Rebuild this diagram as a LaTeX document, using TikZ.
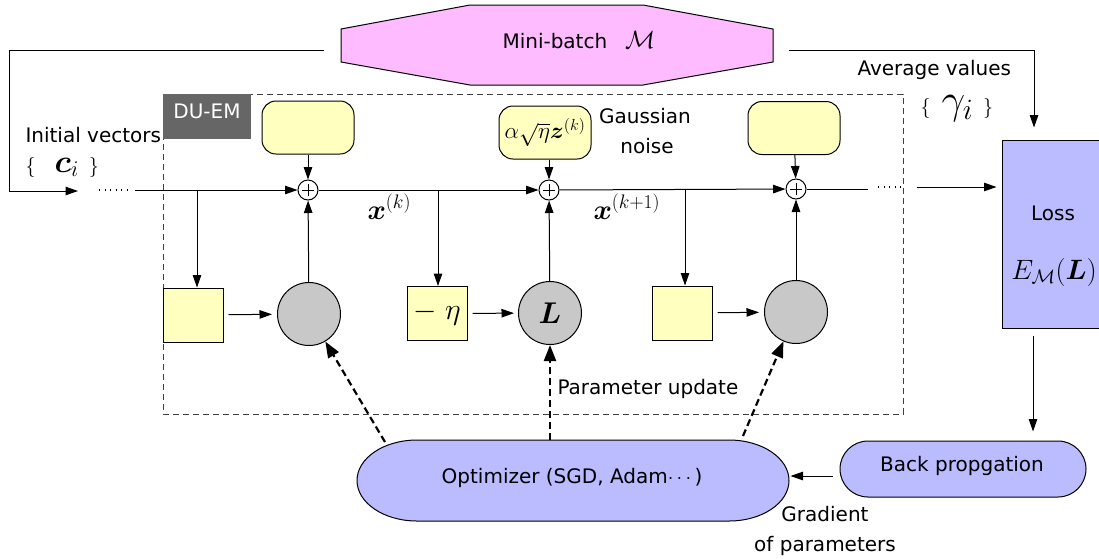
\RequirePackage{fix-cm}
\documentclass[tikz,border=0pt]{standalone}
\usepackage{amsmath,bm}
\usepackage{fontspec}
\setmainfont{DejaVu Sans}
\usetikzlibrary{arrows.meta}
\definecolor{pinkf}{RGB}{255,187,255}
\definecolor{yellowf}{RGB}{255,255,192}
\definecolor{grayf}{RGB}{200,200,200}
\definecolor{bluef}{RGB}{187,187,255}
\definecolor{duem}{RGB}{102,102,102}
\newcommand{\tfs}{\fontsize{20}{24}\selectfont}
\newcommand{\mfs}{\fontsize{28}{32}\selectfont}
\begin{document}
\begin{tikzpicture}[x=1pt,y=-1pt,line width=1pt,
 arr/.style={-{Triangle[length=12.5pt,width=8.5pt]}},
 darr/.style={-{Triangle[length=16pt,width=12pt]},line width=2.2pt,dash pattern=on 7pt off 4pt},
 txt/.style={inner sep=0pt,font=\tfs},
 mtxt/.style={inner sep=0pt},
 ybox/.style={draw,fill=yellowf,minimum width=60pt,minimum height=54pt,inner sep=0pt},
 gcirc/.style={draw,fill=grayf,circle,minimum size=63pt,inner sep=0pt},
 plusn/.style={draw,circle,fill=white,minimum size=20pt,inner sep=0pt,
   path picture={\draw[line width=0.9pt] ([xshift=-6pt]path picture bounding box.center) -- ([xshift=6pt]path picture bounding box.center);
                 \draw[line width=0.9pt] ([yshift=-6pt]path picture bounding box.center) -- ([yshift=6pt]path picture bounding box.center);}},
 rbox/.style={draw,fill=yellowf,rounded corners=14pt,minimum width=92pt,minimum height=53pt,inner sep=0pt},
 bluebox/.style={draw,fill=bluef,inner sep=0pt},
 dotline/.style={line width=1.3pt,dash pattern=on 1.3pt off 4.2pt}
]
\useasboundingbox (0,0) rectangle (1099,558);
\clip (0,0) rectangle (1099,558);
\fill[white] (0,0) rectangle (1099,558);

% DU-EM dashed frame
\draw[dash pattern=on 6pt off 4pt,draw=black!75] (163,94) rectangle (903,414);
\fill[duem] (163,94) rectangle (251,139);
\node[txt,anchor=base,text=white] (duemlbl) at (207,118) {DU-EM};

% Mini-batch
\draw[fill=pinkf] (341,29) -- (470,5) -- (643,5) -- (773,29) -- (773,62) -- (643,85) -- (470,85) -- (341,62) -- cycle;
\node[txt,anchor=base west] (mb) at (502,48) {Mini-batch\hspace{18pt}{\fontsize{25}{28}\selectfont$\mathcal{M}$}};

% nodes
\node[plusn] (p1) at (308,190) {};
\node[plusn] (p2) at (549,190) {};
\node[plusn] (p3) at (796,189) {};
\node[rbox] (t1) at (308,127.5) {};
\node[rbox] (t2) at (545,132.5) {\fontsize{23}{26}\selectfont$\alpha\sqrt{\eta}\bm{z}^{(k)}$};
\node[rbox] (t3) at (794,128) {};
\node[ybox] (s1) at (193,315) {};
\node[ybox] (s2) at (437,313.5) {\fontsize{30}{34}\selectfont$-\;\eta$};
\node[ybox] (s3) at (682,313) {};
\node[gcirc] (c1) at (309,314) {};
\node[gcirc] (c2) at (550,313) {\fontsize{30}{34}\selectfont$\bm{L}$};
\node[gcirc] (c3) at (796,312) {};

% Loss
\node[bluebox,minimum width=106pt,minimum height=188pt] (loss) at (1055,234) {};
\node[txt,anchor=base] (losslbl) at (1053,220) {Loss};
\node[mtxt,anchor=base] (elbl) at (1054,279) {\fontsize{28}{32}\selectfont$E_{\mathcal{M}}(\bm{L})$};

% Back propagation
\node[bluebox,rounded corners=28pt,minimum width=246pt,minimum height=56pt] (bp) at (963,469) {};
\node[txt,anchor=base] (bplbl) at (962,471) {Back propgation};

% Optimizer
\draw[fill=bluef] (417,440) -- (729,440) .. controls (762.1,440) and (789,458.1) .. (789,480.5) .. controls (789,502.9) and (762.1,521) .. (729,521) -- (417,521) .. controls (383.9,521) and (357,502.9) .. (357,480.5) .. controls (357,458.1) and (383.9,440) .. (417,440) -- cycle;
\node[minimum width=432pt,minimum height=81pt,inner sep=0pt] (opt) at (573,480.5) {};
\node[txt,anchor=base] (optlbl) at (572,483) {Optimizer (SGD, Adam$\cdots$)};

% coordinates
\coordinate (ll) at (324,50);
\coordinate (la) at (78,191);
\coordinate (m0) at (135,190);
\coordinate (b1) at (197,190);
\coordinate (b2) at (438,190);
\coordinate (b3) at (685,190);
\coordinate (e1) at (868,189);
\coordinate (d1) at (878,187);
\coordinate (d2) at (902,187);
\coordinate (e2) at (917,187);
\coordinate (rl) at (789,50);
\coordinate (o1) at (385,442);
\coordinate (o3) at (743,436);

% connectors
\draw[arr] (ll) -- (9,50) |- (la);
\draw[dotline] (99,190) -- (127,190);
\draw[arr] (m0) -- (p1);
\draw[arr] (b1) -- (b1 |- s1.north);
\draw[arr,shorten <=5pt,shorten >=5pt] (s1) -- (c1);
\draw[arr] (c1) -- (p1);
\draw[arr] (t1) -- (p1);
\draw[arr] (p1) -- (p2);
\draw[arr] (b2) -- (b2 |- s2.north);
\draw[arr,shorten <=5pt,shorten >=4pt] (s2) -- (c2);
\draw[arr] (c2) -- (p2);
\draw[arr] (t2.south -| p2) -- (p2);
\draw[arr] (p2) -- (p3);
\draw[arr] (b3) -- (b3 |- s3.north);
\draw[arr,shorten <=5pt,shorten >=5pt] (s3) -- (c3);
\draw[arr] (c3) -- (p3);
\draw[arr] (t3) -- (p3);
\draw (p3) -- (e1);
\draw[dotline] (d1) -- (d2);
\draw[arr,shorten >=5pt] (e2) -- (e2 -| loss.west);
\draw[arr,shorten >=12pt] (rl) -| ([xshift=-21pt]loss.north);
\draw[arr,shorten <=7pt,shorten >=9pt] ([xshift=-22pt]loss.south) -- ([xshift=-22pt]loss.south |- bp.north);
\draw[arr,shorten <=7pt,shorten >=1pt] ([yshift=-7pt]bp.west) -- ([yshift=-7pt]bp.west -| opt.east);
\draw[darr] (o1) -- (c1);
\draw[darr] (opt.north -| c2) -- (c2);
\draw[darr] (o3) -- (c3);

% labels
\node[txt,anchor=base west] (iv) at (25,142) {Initial vectors};
\node[mtxt,anchor=base west] (ci) at (25,172) {\fontsize{20}{24}\selectfont$\{$\hspace{19pt}{\fontsize{32}{36}\selectfont$\bm{c}_i$}\hspace{10pt}$\}$};
\node[txt,anchor=base west] (av) at (857,75) {Average values};
\node[mtxt,anchor=base west] (gi) at (920,113) {\fontsize{20}{24}\selectfont$\{$\hspace{11pt}{\fontsize{42}{46}\selectfont$\gamma_i$}\hspace{10pt}$\}$};
\node[txt,anchor=base] (gn1) at (645,123) {Gaussian};
\node[txt,anchor=base] (gn2) at (647,153) {noise};
\node[mtxt,anchor=base west] (xk) at (367,219) {\mfs$\bm{x}^{(k)}$};
\node[mtxt,anchor=base west] (xk1) at (593,219) {\mfs$\bm{x}^{(k+1)}$};
\node[txt,anchor=base west] (pu) at (557,394) {Parameter update};
\node[txt,anchor=base] (gr1) at (825,521) {Gradient};
\node[txt,anchor=base] (gr2) at (825,551) {of parameters};
\end{tikzpicture}
\end{document}
